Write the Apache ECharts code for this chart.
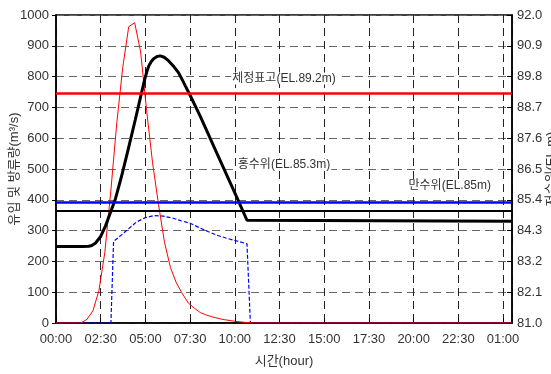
<!DOCTYPE html>
<html>
<head>
<meta charset="utf-8">
<script src="https://cdn.jsdelivr.net/npm/echarts@6/dist/echarts.min.js"></script>
<style>
  html, body { margin: 0; padding: 0; background: #fff; }
  #chart { width: 551px; height: 374px; }
</style>
</head>
<body>
<div id="chart"></div>
<script>
// time in hours from start
const inflowTime = [0, 1.4, 1.733, 2.067, 2.4, 2.733, 3.067, 3.4, 3.733, 4.067, 4.4, 4.733, 5.067, 5.4, 5.733, 6.067, 6.4, 6.733, 7.067, 7.4, 7.733, 8.067, 8.4, 8.733, 9.067, 9.4, 9.733, 10.067, 10.4, 10.733, 11.067, 25.5]
const inflow = [0, 0, 12, 40, 105, 230, 430, 650, 830, 962, 975, 880, 690, 520, 385, 262, 180, 130, 95, 65, 48, 34, 26, 20, 15, 11, 8, 5, 3, 1, 0, 0]

const outflowTime = [0, 3.07, 3.22, 3.6, 4.0, 4.5, 5.0, 5.5, 6.0, 6.5, 7.0, 7.5, 8.0, 8.5, 9.0, 9.5, 10.0, 10.68, 10.87, 25.5]
const outflow = [0, 0, 265, 283, 303, 328, 342, 349, 347, 341, 332, 324, 310, 297, 285, 276, 268, 257, 0, 0]

// reservoir level (EL.m)
const levelTime = [0, 1.5, 1.83, 2.0, 2.2, 2.5, 2.75, 3.0, 3.33, 3.67, 4.0, 4.43, 4.72, 4.96, 5.09, 5.2, 5.33, 5.46, 5.65, 5.83, 6.05, 6.3, 6.6, 6.86, 7.05, 7.23, 7.47, 8.07, 9.0, 10.0, 10.68, 25.5]
const level = [83.73, 83.73, 83.74, 83.77, 83.85, 84.09, 84.44, 84.87, 85.45, 86.25, 87.10, 88.25, 89.05, 89.70, 90.00, 90.20, 90.34, 90.44, 90.52, 90.54, 90.49, 90.36, 90.15, 89.93, 89.70, 89.47, 89.17, 88.38, 87.06, 85.65, 84.67, 84.63]

const refLevels = [89.2, 85.3, 85.0]
const refNames = ['제정표고(EL.89.2m)', '홍수위(EL.85.3m)', '만수위(EL.85m)']

const levelBase = 81.0
const levelStep = 1.1
const font = "'Liberation Sans', 'Noto Sans CJK KR', sans-serif"

const pairs = (xs, ys, shift) => xs.map((x, i) => [x, ys[i] - (shift || 0)])

const fmtTime = (v) => {
  if (Math.abs(v / 2.5 - Math.round(v / 2.5)) > 1e-6) return ''
  const mins = Math.round(v * 60)
  const h = Math.floor(mins / 60) % 24
  const m = mins % 60
  return String(h).padStart(2, '0') + ':' + String(m).padStart(2, '0')
}

const refLabel = (text, position, distance) => ({
  formatter: text,
  position: position,
  distance: distance,
  fontSize: 12,
  color: '#333',
  fontFamily: font,
  backgroundColor: '#fff',
  padding: [0, 1],
})

const chart = echarts.init(document.getElementById('chart'))
const option = {
  backgroundColor: '#fff',
  animation: false,
  grid: {
    left: 56, right: 39, top: 15, bottom: 51,
    outerBoundsMode: 'none',
    containLabel: false,
    show: true, borderColor: '#000', borderWidth: 1.5,
  },
  xAxis: {
    type: 'value',
    min: 0,
    max: 25.5,
    interval: 2.5,
    name: '시간(hour)',
    nameLocation: 'middle',
    nameGap: 32,
    nameMoveOverlap: false,
    nameTextStyle: { fontSize: 13, color: '#333', fontFamily: font },
    axisLine: { lineStyle: { color: '#000', width: 1.5 } },
    axisTick: { inside: true, length: 5, lineStyle: { color: '#000' } },
    axisLabel: {
      formatter: fmtTime, showMaxLabel: false,
      fontSize: 13, color: '#333', fontFamily: font, margin: 10,
    },
    splitLine: { show: true, lineStyle: { color: '#222', type: [8, 5], width: 1 } },
  },
  yAxis: [
    {
      type: 'value',
      min: 0,
      max: 1000,
      interval: 100,
      name: '유입 및 방류량(m³/s)',
      nameLocation: 'middle',
      nameGap: 35,
      nameMoveOverlap: false,
      nameTextStyle: { fontSize: 13, color: '#333', fontFamily: font },
      axisLine: { show: true, lineStyle: { color: '#000', width: 1.5 } },
      axisTick: { show: true, length: 4, lineStyle: { color: '#000' } },
      axisLabel: { formatter: (v) => String(v), fontSize: 13, color: '#333', fontFamily: font, margin: 7 },
      splitLine: { show: true, lineStyle: { color: '#666', type: [8, 5], width: 1 } },
    },
    {
      type: 'value',
      position: 'right',
      min: 0,
      max: levelStep * 10,
      interval: levelStep,
      name: '저수위(EL.m)',
      nameLocation: 'middle',
      nameGap: 33,
      nameMoveOverlap: false,
      nameTextStyle: { fontSize: 13, color: '#333', fontFamily: font },
      axisLine: { show: true, lineStyle: { color: '#000', width: 1.5 } },
      axisTick: { show: true, inside: true, length: 5, lineStyle: { color: '#000' } },
      axisLabel: {
        formatter: (v) => (v + levelBase).toFixed(1),
        fontSize: 13, color: '#333', fontFamily: font, margin: 5,
      },
      splitLine: { show: false },
    },
  ],
  series: [
    {
      name: '유입량',
      type: 'line',
      yAxisIndex: 0,
      showSymbol: false,
      lineStyle: { color: '#ff0000', width: 1 },
      data: pairs(inflowTime, inflow),
      z: 3,
    },
    {
      name: '방류량',
      type: 'line',
      yAxisIndex: 0,
      showSymbol: false,
      lineStyle: { color: '#0000ff', width: 1.2, type: [4, 2] },
      data: pairs(outflowTime, outflow),
      z: 2,
    },
    {
      name: '저수위',
      type: 'line',
      yAxisIndex: 1,
      showSymbol: false,
      lineStyle: { color: '#000', width: 3 },
      data: pairs(levelTime, level, levelBase),
      z: 4,
      markLine: {
        silent: true,
        symbol: 'none',
        animation: false,
        data: [
          {
            yAxis: refLevels[0] - levelBase,
            lineStyle: { color: '#ff0000', width: 2.5, type: 'solid' },
            label: refLabel(refNames[0], 'insideMiddleTop', 9),
          },
          {
            yAxis: refLevels[1] - levelBase,
            lineStyle: { color: '#0000ff', width: 2.5, type: 'solid' },
            label: refLabel(refNames[1], 'insideMiddleTop', 32),
          },
          {
            yAxis: refLevels[2] - levelBase,
            lineStyle: { color: '#000', width: 2, type: 'solid' },
            label: refLabel(refNames[2], 'insideEndTop', [20, 19]),
          },
        ],
      },
    },
  ],
}
chart.setOption(option)
</script>
</body>
</html>
